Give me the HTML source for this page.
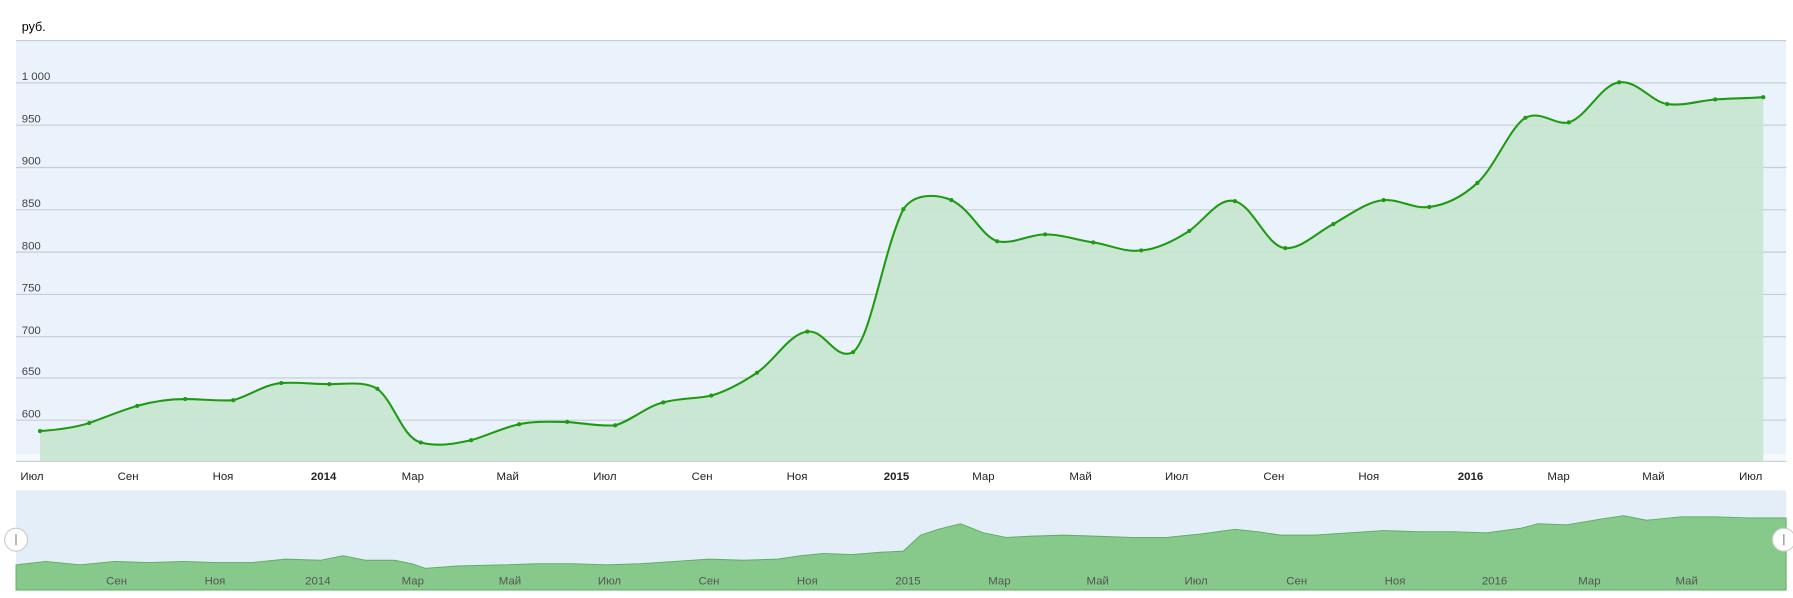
<!DOCTYPE html>
<html><head><meta charset="utf-8"><style>
html,body{margin:0;padding:0;background:#fff;}
svg{display:block;}
text{font-family:"Liberation Sans",sans-serif;}
</style></head><body>
<svg width="1793" height="598" viewBox="0 0 1568 523" preserveAspectRatio="none">
<rect x="0" y="0" width="1568" height="523" fill="#fff"/>
<text x="19" y="27" font-size="11" fill="#000">руб.</text>
<rect x="14" y="35" width="1548" height="362" fill="#eaf2fb"/>
<rect x="14" y="397" width="1548" height="6" fill="#f5f9fd"/>
<g stroke="#c4ccd4" stroke-width="1">
<line x1="14" y1="35.5" x2="1562" y2="35.5"/>
<line x1="14" y1="72.5" x2="1562" y2="72.5"/>
<line x1="14" y1="109.5" x2="1562" y2="109.5"/>
<line x1="14" y1="146.5" x2="1562" y2="146.5"/>
<line x1="14" y1="183.5" x2="1562" y2="183.5"/>
<line x1="14" y1="220.5" x2="1562" y2="220.5"/>
<line x1="14" y1="257.5" x2="1562" y2="257.5"/>
<line x1="14" y1="294.5" x2="1562" y2="294.5"/>
<line x1="14" y1="330.5" x2="1562" y2="330.5"/>
<line x1="14" y1="367.5" x2="1562" y2="367.5"/>
<line x1="14" y1="403.5" x2="1562" y2="403.5"/>
</g>
<g font-size="10" fill="#444">
<text x="19" y="70">1 000</text><text x="19" y="107">950</text><text x="19" y="144">900</text>
<text x="19" y="181">850</text><text x="19" y="218">800</text><text x="19" y="255">750</text>
<text x="19" y="292">700</text><text x="19" y="328">650</text><text x="19" y="365">600</text>
</g>
<path id="p" d="M35,377 C50,376 65,374 78,370 C92,365 106,359 120,355 C134,351 148,349 162,349 C176,349 190,351 204,350 C218,346 232,336 246,335 C260,334 274,336 288,336 C302,336 318,333 330,340 C345,352 352,383 368,387 C383,391 398,388 412,385 C426,381 440,374 454,371 C468,368 482,369 496,369 C510,370 524,373 538,372 C552,368 566,355 580,352 C594,348 608,349 622,346 C636,342 650,334 662,326 C678,315 690,292 706,290 C722,288 730,316 746,308 C762,295 772,220 790,183 C800,168 820,170 832,175 C850,184 858,206 872,211 C886,214 900,205 914,205 C928,205 942,210 956,212 C970,214 984,221 998,219 C1012,218 1026,211 1040,202 C1054,192 1066,172 1080,176 C1096,180 1108,216 1124,217 C1138,218 1152,203 1166,196 C1180,188 1196,176 1210,175 C1224,174 1236,183 1250,181 C1266,179 1280,171 1292,160 C1308,145 1320,112 1334,103 C1348,96 1360,110 1372,107 C1388,102 1400,74 1416,72 C1432,70 1444,89 1458,91 C1472,93 1486,88 1500,87 C1514,86 1528,86 1542,85" fill="none"/>
<path d="M35,377 C50,376 65,374 78,370 C92,365 106,359 120,355 C134,351 148,349 162,349 C176,349 190,351 204,350 C218,346 232,336 246,335 C260,334 274,336 288,336 C302,336 318,333 330,340 C345,352 352,383 368,387 C383,391 398,388 412,385 C426,381 440,374 454,371 C468,368 482,369 496,369 C510,370 524,373 538,372 C552,368 566,355 580,352 C594,348 608,349 622,346 C636,342 650,334 662,326 C678,315 690,292 706,290 C722,288 730,316 746,308 C762,295 772,220 790,183 C800,168 820,170 832,175 C850,184 858,206 872,211 C886,214 900,205 914,205 C928,205 942,210 956,212 C970,214 984,221 998,219 C1012,218 1026,211 1040,202 C1054,192 1066,172 1080,176 C1096,180 1108,216 1124,217 C1138,218 1152,203 1166,196 C1180,188 1196,176 1210,175 C1224,174 1236,183 1250,181 C1266,179 1280,171 1292,160 C1308,145 1320,112 1334,103 C1348,96 1360,110 1372,107 C1388,102 1400,74 1416,72 C1432,70 1444,89 1458,91 C1472,93 1486,88 1500,87 C1514,86 1528,86 1542,85 L1542,403 L35,403 Z" fill="#c6e5cf" fill-opacity="0.9"/>
<use href="#p" stroke="#1e9a10" stroke-width="1.8"/>
<g fill="#1e9a10">
<circle cx="35" cy="377" r="1.8"/><circle cx="78" cy="370" r="1.8"/><circle cx="120" cy="355" r="1.8"/><circle cx="162" cy="349" r="1.8"/><circle cx="204" cy="350" r="1.8"/><circle cx="246" cy="335" r="1.8"/><circle cx="288" cy="336" r="1.8"/><circle cx="330" cy="340" r="1.8"/><circle cx="368" cy="387" r="1.8"/><circle cx="412" cy="385" r="1.8"/><circle cx="454" cy="371" r="1.8"/><circle cx="496" cy="369" r="1.8"/><circle cx="538" cy="372" r="1.8"/><circle cx="580" cy="352" r="1.8"/><circle cx="622" cy="346" r="1.8"/><circle cx="662" cy="326" r="1.8"/><circle cx="706" cy="290" r="1.8"/><circle cx="746" cy="308" r="1.8"/><circle cx="790" cy="183" r="1.8"/><circle cx="832" cy="175" r="1.8"/><circle cx="872" cy="211" r="1.8"/><circle cx="914" cy="205" r="1.8"/><circle cx="956" cy="212" r="1.8"/><circle cx="998" cy="219" r="1.8"/><circle cx="1040" cy="202" r="1.8"/><circle cx="1080" cy="176" r="1.8"/><circle cx="1124" cy="217" r="1.8"/><circle cx="1166" cy="196" r="1.8"/><circle cx="1210" cy="175" r="1.8"/><circle cx="1250" cy="181" r="1.8"/><circle cx="1292" cy="160" r="1.8"/><circle cx="1334" cy="103" r="1.8"/><circle cx="1372" cy="107" r="1.8"/><circle cx="1416" cy="72" r="1.8"/><circle cx="1458" cy="91" r="1.8"/><circle cx="1500" cy="87" r="1.8"/><circle cx="1542" cy="85" r="1.8"/>
</g>
<g font-size="10" fill="#222" text-anchor="middle">
<text x="28" y="420">Июл</text><text x="112" y="420">Сен</text><text x="195" y="420">Ноя</text>
<text x="283" y="420" font-weight="bold">2014</text><text x="361" y="420">Мар</text><text x="444" y="420">Май</text>
<text x="529" y="420">Июл</text><text x="614" y="420">Сен</text><text x="697" y="420">Ноя</text>
<text x="784" y="420" font-weight="bold">2015</text><text x="860" y="420">Мар</text><text x="945" y="420">Май</text>
<text x="1029" y="420">Июл</text><text x="1114" y="420">Сен</text><text x="1197" y="420">Ноя</text>
<text x="1286" y="420" font-weight="bold">2016</text><text x="1363" y="420">Мар</text><text x="1446" y="420">Май</text>
<text x="1531" y="420">Июл</text>
</g>
<rect x="14" y="429" width="1548" height="87" fill="#e4eef9"/>
<path d="M14,494 L40,491 L70,494 L100,491 L130,492 L160,491 L190,492 L220,492 L250,489 L280,490 L300,486 L320,490 L345,490 L360,493 L372,497 L400,495 L440,494 L470,493 L500,493 L530,494 L560,493 L590,491 L620,489 L650,490 L680,489 L700,486 L720,484 L745,485 L770,483 L790,482 L805,468 L820,463 L840,458 L860,466 L880,470 L900,469 L930,468 L960,469 L990,470 L1020,470 L1050,467 L1080,463 L1100,465 L1120,468 L1150,468 L1180,466 L1210,464 L1240,465 L1270,465 L1300,466 L1330,462 L1345,458 L1370,459 L1400,454 L1420,451 L1440,455 L1470,452 L1500,452 L1530,453 L1562,453 L1562,516 L14,516 Z" fill="#86c98b" stroke="#5aae5f" stroke-width="0.8"/>
<g font-size="10" fill="#555" text-anchor="middle">
<text x="102" y="511">Сен</text><text x="188" y="511">Ноя</text><text x="278" y="511">2014</text>
<text x="361" y="511">Мар</text><text x="446" y="511">Май</text><text x="533" y="511">Июл</text>
<text x="620" y="511">Сен</text><text x="706" y="511">Ноя</text><text x="794" y="511">2015</text>
<text x="874" y="511">Мар</text><text x="960" y="511">Май</text><text x="1046" y="511">Июл</text>
<text x="1134" y="511">Сен</text><text x="1220" y="511">Ноя</text><text x="1307" y="511">2016</text>
<text x="1390" y="511">Мар</text><text x="1475" y="511">Май</text>
</g>
<circle cx="14" cy="472" r="10" fill="#fff" stroke="#ccc"/>
<line x1="14" y1="467" x2="14" y2="477" stroke="#888"/>
<circle cx="1560" cy="472" r="10" fill="#fff" stroke="#ccc"/>
<line x1="1560" y1="467" x2="1560" y2="477" stroke="#888"/>
</svg>
</body></html>
